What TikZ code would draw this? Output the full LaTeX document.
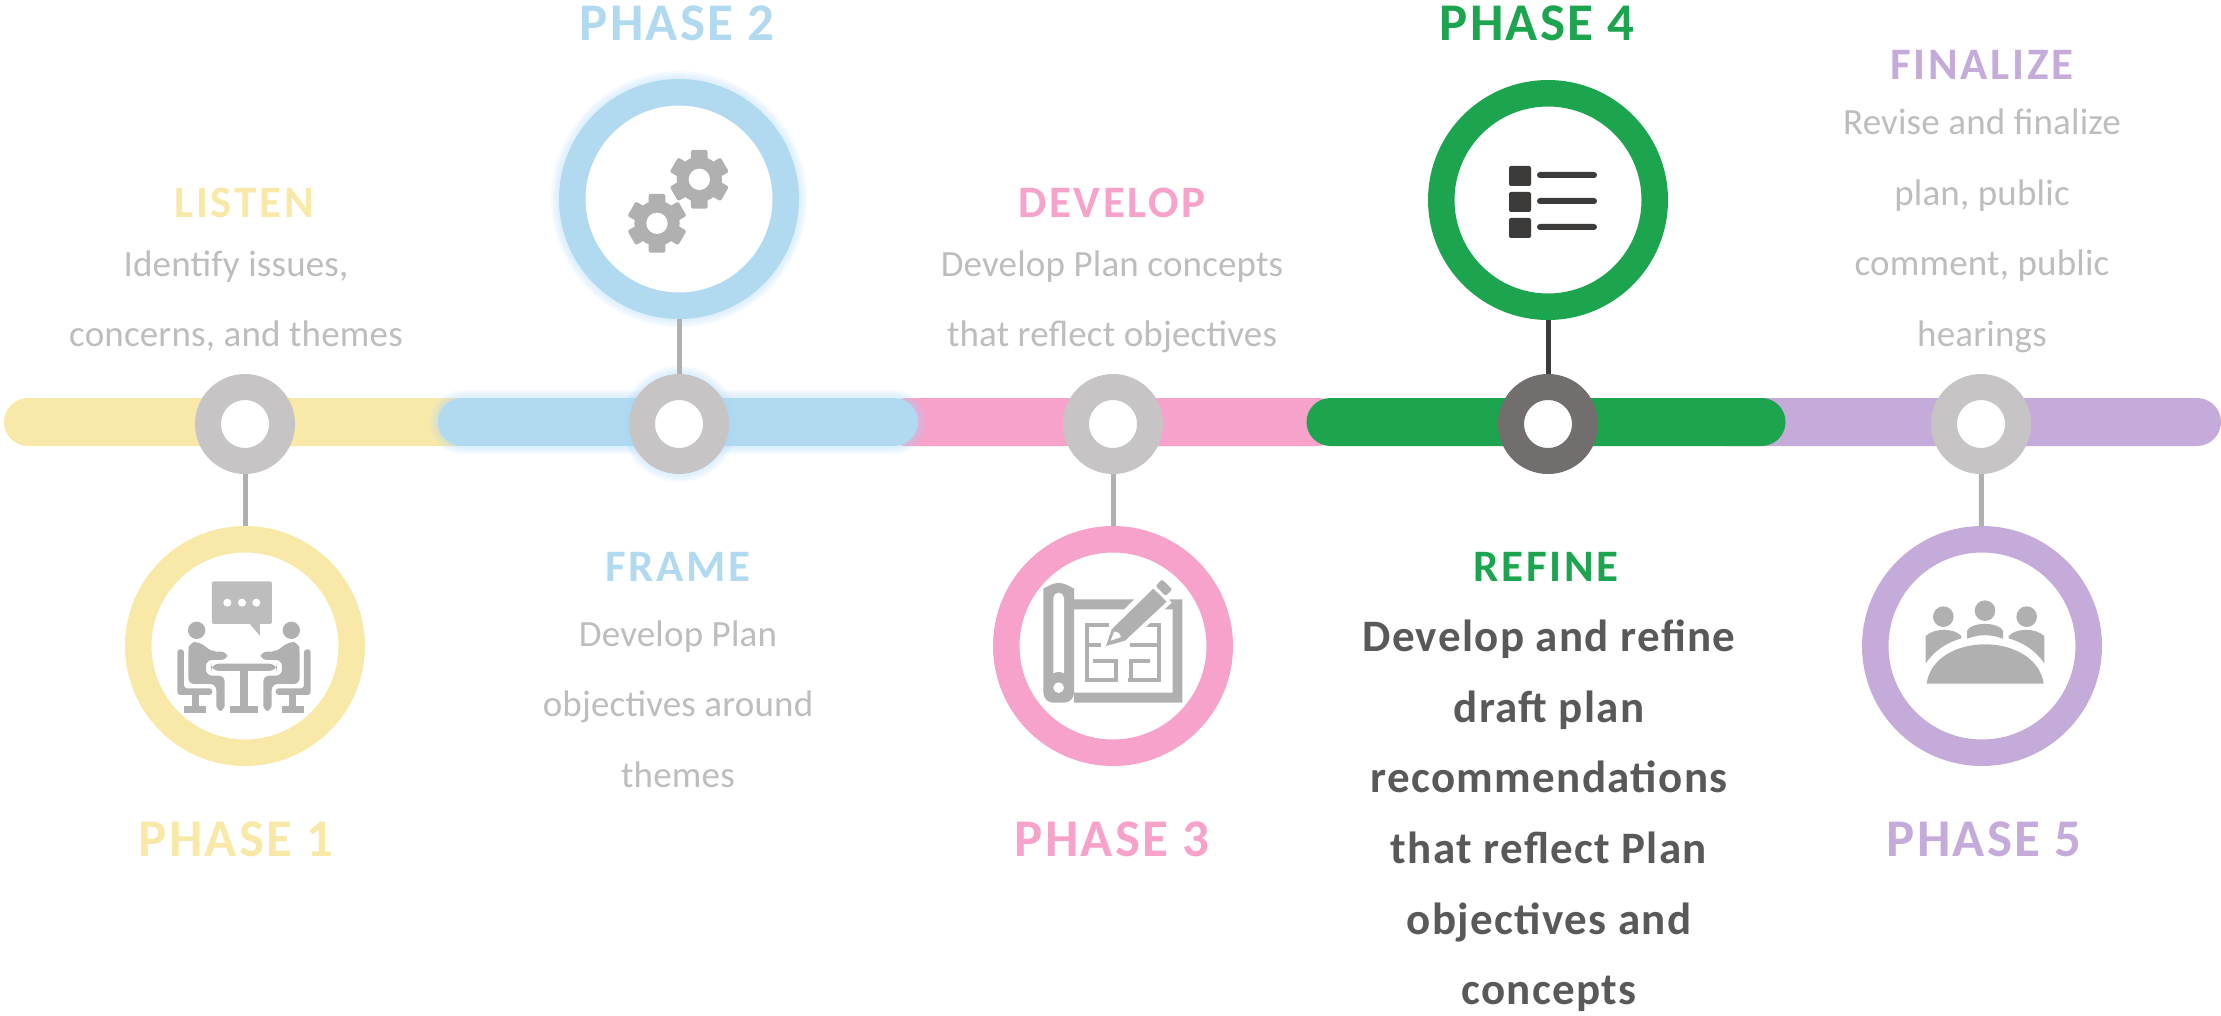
\documentclass[tikz,border=0pt]{standalone}
\usepackage{fontspec}
\setmainfont{Carlito}
\newfontfamily\titlefont[LetterSpace=4]{Carlito}
\newfontfamily\headfont[LetterSpace=6]{Carlito}
\newfontfamily\boldfont[LetterSpace=3]{Carlito}
\newfontfamily\bodyfont[LetterSpace=0.5]{Carlito}
\definecolor{listencol}{HTML}{F8E9A8}
\definecolor{framecol}{HTML}{B1DAF1}
\definecolor{developcol}{HTML}{F6A2CA}
\definecolor{refinecol}{HTML}{1CA54E}
\definecolor{finalcol}{HTML}{C4ABD9}
\definecolor{hubgrey}{HTML}{C6C4C5}
\definecolor{hubdark}{HTML}{726E6E}
\definecolor{icongrey}{HTML}{B0B0B0}
\definecolor{icondark}{HTML}{3C3B39}
\definecolor{bodygrey}{HTML}{BDBDBD}
\definecolor{bodydark}{HTML}{595959}
\definecolor{glowcol}{HTML}{A9D6FA}
\newcommand{\gearicon}[2]{
    \foreach \a in {0,60,...,300}
        \fill[icongrey, rounded corners=2pt, shift={(#1,#2)}, rotate=\a] (-25,50) rectangle (25,88);
    \fill[icongrey] (#1,#2) circle[radius=68];
    \fill[white] (#1,#2) circle[radius=32];
}
\newcommand{\sitter}{
    \fill[icongrey] (290,391) circle[radius=26];
    \fill[icongrey, rounded corners=6pt] (265,450) -- (268,428) -- (298,425) -- (335,455) -- (382,455) -- (382,480) -- (318,480) -- (318,527) -- (374,527) -- (374,633) -- (349,633) -- (349,552) -- (265,552) -- cycle;
    \fill[icongrey, rounded corners=3pt] (232,448) -- (252,448) -- (252,565) -- (337,565) -- (337,585) -- (232,585) -- cycle;
    \fill[icongrey] (275,585) rectangle (298,617);
    \fill[icongrey] (253,617) rectangle (317,638);
}
\begin{document}
\begin{tikzpicture}[
    x=1pt, y=-1pt,
    bar/.style={
        rectangle,
        rounded corners=24pt,
        minimum height=48pt,
        inner sep=0pt
    },
    ring/.style={
        circle,
        line width=26.5pt,
        fill=white,
        minimum size=213.5pt,
        inner sep=0pt
    },
    hub/.style={
        circle,
        draw=hubgrey,
        line width=26pt,
        fill=white,
        minimum size=74pt,
        inner sep=0pt
    },
    stem/.style={icongrey, line width=5pt},
    glow/.style={glowcol, opacity=0.11},
    title/.style={font=\titlefont\fontsize{53}{56}\bfseries\selectfont},
    head/.style={font=\headfont\fontsize{45}{48}\bfseries\selectfont},
    body/.style={align=center, text=bodygrey, font=\bodyfont\fontsize{37}{70.5}\selectfont},
    boldbody/.style={align=center, text=bodydark, font=\boldfont\fontsize{45}{70.6}\bfseries\selectfont}
]
\useasboundingbox (0,0) rectangle (2221,1015);

% timeline
\node[bar, fill=listencol, minimum width=480pt] (barlisten) at (244,422) {};
\node[bar, fill=developcol, minimum width=460pt] (bardevelop) at (1112,422) {};
\node[bar, fill=finalcol, minimum width=520pt] (barfinal) at (1961,422) {};
\foreach \g in {2,4,...,8}
    \fill[glow, rounded corners=24pt+\g pt] (438-\g,398-\g) rectangle (918+\g,446+\g);
\node[bar, fill=framecol, minimum width=480pt] (barframe) at (678,422) {};
\node[bar, fill=refinecol, minimum width=479pt] (barrefine) at (1546,422) {};

% hubs
\foreach \g in {2,4,...,8}
    \fill[glow] (679,424) circle[radius=50+\g];
\node[hub] (hubone) at (245,424) {};
\node[hub] (hubtwo) at (679,424) {};
\node[hub] (hubthree) at (1113,424) {};
\node[hub, draw=hubdark] (hubfour) at (1548,424) {};
\node[hub] (hubfive) at (1981,424) {};

% phase rings
\foreach \g in {2,4,...,8}
    \fill[glow] (679,199) circle[radius=120+\g];
\node[ring, draw=listencol] (phaseone) at (245,646) {};
\node[ring, draw=framecol] (phasetwo) at (679,199) {};
\node[ring, draw=developcol] (phasethree) at (1113,646) {};
\node[ring, draw=refinecol] (phasefour) at (1548,200) {};
\node[ring, draw=finalcol] (phasefive) at (1982,646) {};

\draw[stem] (hubone) -- (phaseone);
\draw[stem] (hubtwo) -- (phasetwo);
\draw[stem] (hubthree) -- (phasethree);
\draw[stem, icondark] (hubfour) -- (phasefour);
\draw[stem] (hubfive) -- (phasefive);

% phase 1 icon
\begin{scope}[shift={(100,500)}, x=0.3333pt, y=-0.3333pt]
    \fill[bodygrey, rounded corners=2pt] (336,244) rectangle (516,372);
    \fill[bodygrey] (448,370) -- (480,408) -- (480,370) -- cycle;
    \foreach \x in {382,426,469}
        \fill[white] (\x,308) circle[radius=12];
    \sitter
    \begin{scope}[shift={(864,0)}, xscale=-1]
        \sitter
    \end{scope}
    \fill[icongrey, rounded corners=8pt] (333,491) rectangle (531,513);
    \fill[icongrey] (420,505) rectangle (444,617);
    \fill[icongrey] (390,617) rectangle (474,638);
\end{scope}

% phase 2 icon
\begin{scope}[shift={(540,60)}, x=0.3333pt, y=-0.3333pt]
    \gearicon{478}{358}
    \gearicon{351}{490}
\end{scope}

% phase 3 icon
\begin{scope}[shift={(980,510)}, x=0.3333pt, y=-0.3333pt]
    \fill[icongrey, rounded corners=10pt] (190,265) arc[start angle=180, end angle=360, radius=46] -- (282,578) -- (190,578) -- cycle;
    \fill[white] (220,490) -- (220,264) arc[start angle=180, end angle=360, radius=16] -- (252,490) .. controls (240,484) and (232,484) .. (220,490) -- cycle;
    \fill[white] (236,533) circle[radius=16];
    \fill[icongrey] (282,268) -- (462,268) -- (432,298) -- (282,298) -- cycle;
    \fill[icongrey] (570,268) -- (607,268) -- (607,578) -- (282,578) -- (282,548) -- (578,548) -- (578,298) -- (540,298) -- cycle;
    \draw[icongrey, line width=4pt] (388,344) -- (321,344) -- (321,509) -- (414,509) (408,509) -- (408,452) -- (340,452) (321,405) -- (362,405);
    \draw[icongrey, line width=4pt] (490,344) -- (537,344) -- (537,509) -- (445,509) (452,509) -- (452,452) -- (510,452) (450,405) -- (537,405);
    \fill[white] (365,420) -- (385,352) -- (520,222) -- (575,278) -- (440,405) -- cycle;
    \fill[icongrey] (378,408) -- (395,358) -- (520,236) -- (560,275) -- (435,392) -- cycle;
    \fill[icongrey, rounded corners=2pt] (527,228) -- (546,208) -- (577,238) -- (557,258) -- cycle;
    \fill[white] (392,392) -- (402,366) .. controls (412,362) and (426,376) .. (422,382) -- cycle;
\end{scope}

% phase 4 icon
\begin{scope}[shift={(1420,60)}, x=0.3333pt, y=-0.3333pt]
    \foreach \y in {0,78,156} {
        \fill[icondark, rounded corners=2pt] (267,318+\y) rectangle (333,378+\y);
        \fill[icondark, rounded corners=3pt] (351,336+\y) rectangle (531,354+\y);
    }
\end{scope}

% phase 5 icon
\begin{scope}[shift={(1840,510)}, x=0.3333pt, y=-0.3333pt]
    \fill[icongrey] (310,320) circle[radius=31];
    \fill[icongrey] (435,302) circle[radius=31];
    \fill[icongrey] (560,320) circle[radius=31];
    \fill[icongrey] (260,521) .. controls (270,445) and (350,403) .. (435,403) .. controls (520,403) and (600,445) .. (611,521) -- cycle;
    \fill[icongrey] (381,386) -- (381,362) .. controls (395,335) and (475,335) .. (489,362) -- (489,386) .. controls (450,372) and (420,372) .. (381,386) -- cycle;
    \fill[icongrey] (257,460) -- (257,378) .. controls (285,352) and (345,355) .. (364,378) -- (364,385) .. controls (320,398) and (285,420) .. (257,460) -- cycle;
    \fill[icongrey] (613,460) -- (613,378) .. controls (585,352) and (525,355) .. (506,378) -- (506,385) .. controls (550,398) and (585,420) .. (613,460) -- cycle;
\end{scope}

% texts
\node[title, text=listencol] (titleone) at (236,839) {PHASE 1};
\node[title, text=framecol] (titletwo) at (677,23) {PHASE 2};
\node[title, text=developcol] (titlethree) at (1112,839) {PHASE 3};
\node[title, text=refinecol] (titlefour) at (1537,23) {PHASE 4};
\node[title, text=finalcol] (titlefive) at (1984,839) {PHASE 5};

\node[head, text=listencol] (headlisten) at (244,203) {LISTEN};
\node[head, text=framecol] (headframe) at (678,567) {FRAME};
\node[head, text=developcol] (headdevelop) at (1112,203) {DEVELOP};
\node[head, text=refinecol] (headrefine) at (1546,567) {REFINE};
\node[head, text=finalcol] (headfinal) at (1982,65) {FINALIZE};

\node[body] (textlisten) at (236,301) {Identify issues,\\concerns, and themes};
\node[body] (textframe) at (678,704) {Develop Plan\\objectives around\\themes};
\node[body] (textdevelop) at (1112,302) {Develop Plan concepts\\that reflect objectives};
\node[boldbody] (textrefine) at (1549,816) {Develop and refine\\draft plan\\recommendations\\that reflect Plan\\objectives and\\concepts};
\node[body] (textfinal) at (1982,231) {Revise and finalize\\plan, public\\comment, public\\hearings};

\end{tikzpicture}
\end{document}
